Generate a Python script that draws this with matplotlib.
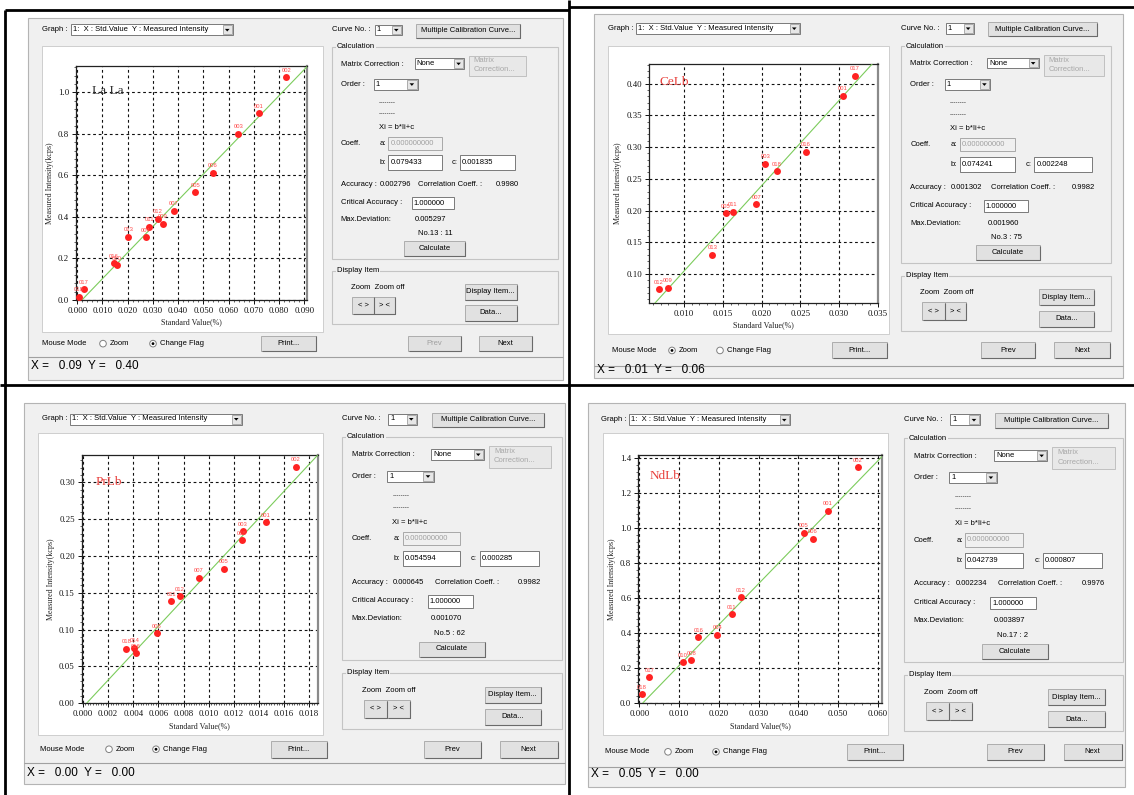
import matplotlib
matplotlib.use("Agg")
import matplotlib.pyplot as plt
from matplotlib.patches import Rectangle, Circle, Polygon
from matplotlib.ticker import MultipleLocator, FormatStrFormatter, AutoMinorLocator

plt.rcParams["lines.scale_dashes"] = False

# ---------------- data ----------------
element_names = ["La La", "CeLb", "PrLb", "NdLb"]

la_ids = ["018", "017", "016", "010", "013", "004", "011", "012", "009", "007", "005", "006", "003", "001", "002"]
la_std = [0.0007, 0.0027, 0.0146, 0.0158, 0.0203, 0.0271, 0.0286, 0.0320, 0.0340, 0.0383, 0.0468, 0.0537, 0.0638, 0.0720, 0.0829]
la_int = [0.016, 0.051, 0.177, 0.168, 0.305, 0.302, 0.353, 0.392, 0.367, 0.430, 0.520, 0.613, 0.801, 0.899, 1.072]

ce_ids = ["012", "009", "013", "005", "011", "007", "003", "018", "016", "001", "017"]
ce_std = [0.00675, 0.0079, 0.01368, 0.01543, 0.01629, 0.01934, 0.02049, 0.02198, 0.02567, 0.03051, 0.0320]
ce_int = [0.0759, 0.0784, 0.1305, 0.1957, 0.1983, 0.2104, 0.2740, 0.2620, 0.2924, 0.3808, 0.4128]

pr_ids = ["018", "014", "016", "006", "011", "012", "007", "005", "003", "008", "001", "002"]
pr_std = [0.00344, 0.00408, 0.00423, 0.00588, 0.00701, 0.00770, 0.00921, 0.01120, 0.01271, 0.01265, 0.01454, 0.01694]
pr_int = [0.0741, 0.0755, 0.0679, 0.0954, 0.1385, 0.1457, 0.1705, 0.1828, 0.2339, 0.2217, 0.2461, 0.3208]

nd_ids = ["018", "017", "010", "008", "016", "004", "011", "012", "005", "006", "001", "002"]
nd_std = [0.0006, 0.0025, 0.0110, 0.0131, 0.01486, 0.01964, 0.02326, 0.02560, 0.04139, 0.04366, 0.04751, 0.05506]
nd_int = [0.053, 0.148, 0.236, 0.247, 0.379, 0.392, 0.510, 0.606, 0.975, 0.940, 1.101, 1.350]

coef_b = [0.079433, 0.074241, 0.054594, 0.042739]
coef_c = [0.001835, 0.002248, 0.000285, 0.000807]
accuracy = ["0.002796", "0.001302", "0.000645", "0.002234"]
corr_coeff = ["0.9980", "0.9982", "0.9982", "0.9976"]
max_dev = ["0.005297", "0.001960", "0.001070", "0.003897"]
max_dev_no = ["No.13 : 11", "No.3 : 75", "No.5 : 62", "No.17 : 2"]
status_x = ["0.09", "0.01", "0.00", "0.05"]
status_y = ["0.40", "0.06", "0.00", "0.00"]

graph_text = "1:  X : Std.Value  Y : Measured Intensity"
x_label = "Standard Value(%)"
y_label = "Measured Intensity(kcps)"

series = [(la_ids, la_std, la_int), (ce_ids, ce_std, ce_int),
          (pr_ids, pr_std, pr_int), (nd_ids, nd_std, nd_int)]

# ---------------- layout (pixels) ----------------
W, H = 1134, 795
SERIF = ["Liberation Serif", "DejaVu Serif"]
UI = ["Liberation Sans", "DejaVu Sans"]
FS = 5.5

panels = [
    dict(win=(28, 18, 563, 380), white=(42, 46, 323, 332), axr=(76, 66, 307, 300),
         xlim=(-0.0005, 0.0911), ylim=(0, 1.127), xmaj=0.01, ymaj=0.2, xminor=5, yminor=5,
         xfmt="%.3f", yfmt="%.1f", box=(332, 47, 558), sx=0.93, sy=0.95,
         graph_x=42, gcombo=(71, 233), mm_x=42, r1=103, r2=153, prt=(261, 316),
         zoom_on=False, prev_on=False, st_line=357, st_y=366,
         lab_color="#333333", lab_pos=(0.07, 0.893)),
    dict(win=(594, 14, 1123, 378), white=(608, 46, 889, 334), axr=(649, 64, 878, 303),
         xlim=(0.0055, 0.035), ylim=(0.0543, 0.431), xmaj=0.005, ymaj=0.05, xminor=5, yminor=5,
         xfmt="%.3f", yfmt="%.2f", box=(901, 46, 1111), sx=0.97, sy=0.975,
         graph_x=608, gcombo=(636, 800), mm_x=612, r1=672, r2=720, prt=(832, 887),
         zoom_on=True, prev_on=True, st_line=366, st_y=370,
         lab_color="#e8403c", lab_pos=(0.044, 0.926)),
    dict(win=(24, 403, 565, 784), white=(38, 433, 323, 735), axr=(81.7, 455, 318, 703.3),
         xlim=(-0.0001, 0.0187), ylim=(0, 0.337), xmaj=0.002, ymaj=0.05, xminor=10, yminor=5,
         xfmt="%.3f", yfmt="%.2f", box=(342, 437, 562), sx=1.0, sy=1.0,
         graph_x=42, gcombo=(70, 242), mm_x=40, r1=109, r2=156, prt=(271, 327),
         zoom_on=False, prev_on=True, st_line=763, st_y=773,
         lab_color="#e8403c", lab_pos=(0.06, 0.892)),
    dict(win=(588, 403, 1125, 787), white=(603, 433, 888, 735), axr=(638.3, 455, 881.7, 703.3),
         xlim=(-0.00025, 0.061), ylim=(0, 1.419), xmaj=0.01, ymaj=0.2, xminor=5, yminor=5,
         xfmt="%.3f", yfmt="%.1f", box=(904, 438, 1123), sx=1.01, sy=1.005,
         graph_x=601, gcombo=(629, 790), mm_x=605, r1=668, r2=716, prt=(847, 903),
         zoom_on=False, prev_on=True, st_line=767, st_y=774,
         lab_color="#e8403c", lab_pos=(0.045, 0.915)),
]

fig = plt.figure(figsize=(W / 100, H / 100), dpi=100)
fig.patch.set_facecolor("white")
bg = fig.add_axes([0, 0, 1, 1], zorder=0)
bg.set_xlim(0, W)
bg.set_ylim(H, 0)
bg.axis("off")


def R(x0, y0, x1, y1, fc="none", ec="none", lw=0.8, z=1):
    bg.add_patch(Rectangle((x0, y0), x1 - x0, y1 - y0, facecolor=fc, edgecolor=ec,
                           linewidth=lw, zorder=z))


def T(x, y, s, size=FS, color="black", ha="left", va="center", z=6, **kw):
    bg.text(x, y, s, fontsize=size, color=color, ha=ha, va=va, family=UI, zorder=z, **kw)


def L(xs, ys, color="black", lw=1, z=2):
    bg.plot(xs, ys, color=color, lw=lw, zorder=z, solid_capstyle="butt")


def button(x0, y0, x1, y1, label, enabled=True):
    R(x0, y0, x1, y1, fc="#e1e1e1", ec="#adadad", lw=0.7, z=3)
    L([x0 + 0.5, x1, x1], [y1, y1, y0 + 0.5], color="#6a6a6a", lw=0.8, z=3.5)
    T((x0 + x1) / 2, (y0 + y1) / 2, label, ha="center",
      color="black" if enabled else "#a0a0a0")


def combo(x0, y0, x1, y1, text):
    R(x0, y0, x1, y1, fc="white", ec="#7a7a7a", lw=0.7, z=3)
    bw = (y1 - y0) - 1.5
    R(x1 - bw - 1, y0 + 1, x1 - 1, y1 - 1, fc="#e6e6e6", ec="#a0a0a0", lw=0.6, z=3.2)
    cx = x1 - 1 - bw / 2
    cy = (y0 + y1) / 2
    bg.add_patch(Polygon([[cx - 2.3, cy - 1.0], [cx + 2.3, cy - 1.0], [cx, cy + 1.6]],
                         closed=True, fc="black", ec="none", zorder=3.5))
    T(x0 + 2, cy, text)


def tbox(x0, y0, x1, y1, text, disabled=False):
    R(x0, y0, x1, y1, fc="#f0f0f0" if disabled else "white",
      ec="#a8a8a8" if disabled else "#7a7a7a", lw=0.7, z=3)
    T(x0 + 2, (y0 + y1) / 2, text, color="#a0a0a0" if disabled else "black")


def group(x0, y0, x1, y1, title):
    R(x0, y0, x1, y1, fc="none", ec="#c4c4c4", lw=0.8, z=2)
    T(x0 + 5, y0, title, z=6, bbox=dict(fc="#f0f0f0", ec="none", pad=0.6))


def radio(x, y, checked):
    bg.add_patch(Circle((x, y), 3.3, fc="white", ec="#808080", lw=0.7, zorder=4))
    if checked:
        bg.add_patch(Circle((x, y), 1.4, fc="black", ec="none", zorder=4.5))


# ---------------- outer frames ----------------
L([5, 5], [10, H], lw=2, z=0.5)
L([5, 569], [10, 10], lw=2, z=0.5)
L([569, W], [7, 7], lw=2, z=0.5)
L([569, 569], [0, H], lw=2, z=0.5)
L([0, W], [385, 385], lw=2, z=0.5)

for i, p in enumerate(panels):
    wx0, wy0, wx1, wy1 = p["win"]
    R(wx0, wy0, wx1, wy1, fc="#f0f0f0", ec="#b4b4b4", lw=0.8, z=1)
    bx0, by0, bx1 = p["box"]
    sx, sy = p["sx"], p["sy"]

    def P(rx, ry):
        return bx0 + rx * sx, by0 + ry * sy

    def PR(rx0, ry0, rx1, ry1):
        a = P(rx0, ry0)
        b = P(rx1, ry1)
        return a[0], a[1], b[0], b[1]

    # --- top row ---
    gy = P(0, -18)[1]
    T(p["graph_x"], gy, "Graph :")
    combo(p["gcombo"][0], gy - 5.5, p["gcombo"][1], gy + 5.5, graph_text)
    T(*P(0, -18), "Curve No. :")
    combo(*PR(46, -23.5, 75, -12.5), "1")
    button(*PR(90, -24.5, 202, -10), "Multiple Calibration Curve...")

    # --- Calculation group ---
    group(bx0, by0, bx1, P(0, 223)[1], "Calculation")
    T(*P(9.5, 18), "Matrix Correction :")
    combo(*PR(89, 12, 142, 23), "None")
    mx0, my0, mx1, my1 = PR(147, 9, 209, 30.5)
    R(mx0, my0, mx1, my1, fc="#e8e8e8", ec="#c0c0c0", lw=0.7, z=3)
    T(mx0 + 5 * sx, my0 + 5.5 * sy, "Matrix", color="#a8a8a8")
    T(mx0 + 5 * sx, my0 + 15 * sy, "Correction...", color="#a8a8a8")
    T(*P(9.5, 39), "Order :")
    combo(*PR(45, 33.5, 92, 45), "1")
    T(*P(50.5, 58.5), "--------", size=4.5)
    T(*P(50.5, 70.7), "--------", size=4.5)
    T(*P(50.5, 85), "Xi = b*Ii+c")
    T(*P(9.5, 101.5), "Coeff.")
    T(*P(58, 101.5), "a:", ha="right")
    tbox(*PR(60.5, 94.5, 118, 108), "0.000000000", disabled=True)
    T(*P(58, 121.5), "b:", ha="right")
    tbox(*PR(60.5, 114, 118, 129), "%.6f" % coef_b[i])
    T(*P(135, 121.5), "c:", ha="right")
    tbox(*PR(137.5, 114, 196.5, 129), "%.6f" % coef_c[i])
    T(*P(9.5, 145), "Accuracy :")
    T(*P(51, 145), accuracy[i])
    T(*P(93, 145), "Correlation Coeff. :")
    T(*P(176, 145), corr_coeff[i])
    T(*P(9.5, 164), "Critical Accuracy :")
    tbox(*PR(85.5, 158, 131, 170.5), "1.000000")
    T(*P(9.5, 182), "Max.Deviation:")
    T(*P(89, 182), max_dev[i])
    T(*P(92.5, 196.5), max_dev_no[i])
    button(*PR(77, 204.5, 143, 219.5), "Calculate")

    # --- Display Item group ---
    group(bx0, P(0, 235.5)[1], bx1, P(0, 292)[1], "Display Item")
    T(*P(20, 253), "Zoom  Zoom off")
    button(*PR(22, 263, 45, 281), "< >")
    button(*PR(45, 263, 67.5, 281), "> <")
    button(*PR(142.5, 249.5, 199, 266), "Display Item...")
    button(*PR(142.5, 272, 199, 288), "Data...")

    # --- bottom row ---
    mx_a, my_a, mx_b, my_b = PR(82, 304, 138.5, 320.5)
    button(mx_a, my_a, mx_b, my_b, "Prev", enabled=p["prev_on"])
    button(*PR(158, 304, 215.5, 320.5), "Next")
    my = (my_a + my_b) / 2
    T(p["mm_x"], my, "Mouse Mode")
    radio(p["r1"], my, p["zoom_on"])
    T(p["r1"] + 7, my, "Zoom")
    radio(p["r2"], my, not p["zoom_on"])
    T(p["r2"] + 7, my, "Change Flag")
    button(p["prt"][0], my_a, p["prt"][1], my_b, "Print...")

    # --- status bar ---
    L([wx0, wx1], [p["st_line"], p["st_line"]], color="#a0a0a0", lw=0.8, z=2)
    T(wx0 + 3, p["st_y"], "X =   %s  Y =   %s" % (status_x[i], status_y[i]), size=8.5)

    # --- plot area ---
    R(*p["white"], fc="white", ec="#c8c8c8", lw=0.6, z=2)
    l, t, r, b = p["axr"]
    ax = fig.add_axes([l / W, 1 - b / H, (r - l) / W, (b - t) / H], zorder=2)
    ax.patch.set_alpha(0)
    ids, xs, ys = series[i]
    ax.set_xlim(*p["xlim"])
    ax.set_ylim(*p["ylim"])
    ax.xaxis.set_major_locator(MultipleLocator(p["xmaj"]))
    ax.yaxis.set_major_locator(MultipleLocator(p["ymaj"]))
    ax.xaxis.set_minor_locator(AutoMinorLocator(p["xminor"]))
    ax.yaxis.set_minor_locator(AutoMinorLocator(p["yminor"]))
    ax.xaxis.set_major_formatter(FormatStrFormatter(p["xfmt"]))
    ax.yaxis.set_major_formatter(FormatStrFormatter(p["yfmt"]))
    ax.grid(True, which="major", color="#111111", linestyle=(0, (2.0, 2.0)), linewidth=0.8)
    ax.set_axisbelow(True)
    ax.tick_params(which="major", direction="out", length=3, width=0.7, labelsize=6.3,
                   pad=2, colors="#111111")
    ax.tick_params(which="minor", direction="out", length=1.6, width=0.5, colors="#222222")
    for lab in ax.get_xticklabels() + ax.get_yticklabels():
        lab.set_family(SERIF)
    for s in ("left", "bottom", "top"):
        ax.spines[s].set_color("#222222")
        ax.spines[s].set_linewidth(0.9)
    ax.spines["right"].set_color("#8a8a8a")
    ax.spines["right"].set_linewidth(1.6)
    ax.set_xlabel(x_label, family=SERIF, fontsize=5.8, labelpad=2.5, color="#222222")
    ax.set_ylabel(y_label, family=SERIF, fontsize=5.8, labelpad=3, color="#222222")

    # fit line from the displayed coefficients: Xi = b*Ii + c
    y_top = p["ylim"][1]
    y_bot = max(p["ylim"][0], (p["xlim"][0] - coef_c[i]) / coef_b[i])
    ax.plot([coef_b[i] * y_bot + coef_c[i], coef_b[i] * y_top + coef_c[i]], [y_bot, y_top],
            color="#7ccc5c", lw=0.8, zorder=3, clip_on=True)
    ax.plot(xs, ys, "o", color="#ff2222", markersize=5, markeredgewidth=0, zorder=4)
    for sid, xv, yv in zip(ids, xs, ys):
        ax.annotate(sid, (xv, yv), xytext=(0, 3.2), textcoords="offset points",
                    ha="center", va="bottom", fontsize=4.2, color="#ff4a4a",
                    family=UI, zorder=5)
    ax.text(p["lab_pos"][0], p["lab_pos"][1], element_names[i], transform=ax.transAxes,
            fontsize=9.5, family=SERIF, color=p["lab_color"], ha="left", va="center", zorder=5)

fig.savefig("out.png", dpi=100, facecolor="white")
